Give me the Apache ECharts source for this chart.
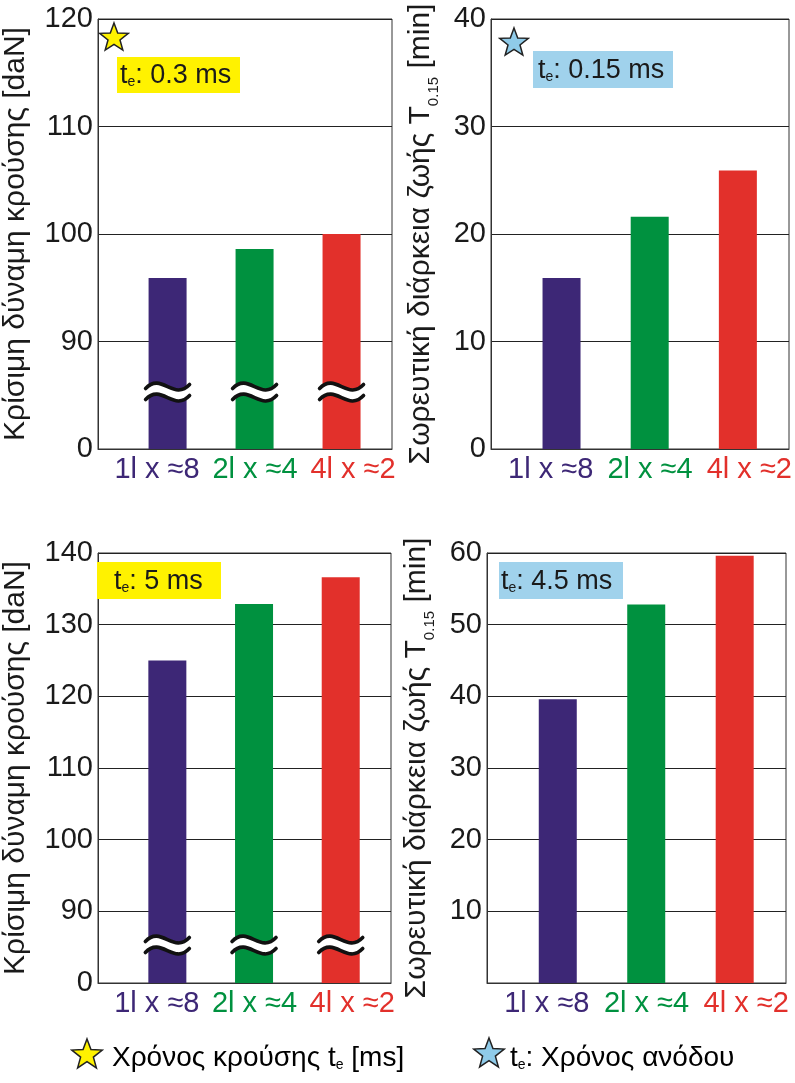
<!DOCTYPE html>
<html>
<head>
<meta charset="utf-8">
<script src="https://cdn.jsdelivr.net/npm/echarts@6/dist/echarts.min.js"></script>
<style>
html,body{margin:0;padding:0;background:#fff;}
#chart{width:795px;height:1083px;}
</style>
</head>
<body>
<div id="chart"></div>
<script>
// ---------------- data ----------------
const categories = ['1l x ≈8', '2l x ≈4', '4l x ≈2'];
const forceShort = [95.9, 98.6, 100.0];   // Κρίσιμη δύναμη, te 0.3 ms
const lifeShort  = [15.9, 21.6, 25.9];    // Σωρευτική διάρκεια, te 0.15 ms
const forceLong  = [125.0, 132.9, 136.6]; // Κρίσιμη δύναμη, te 5 ms
const lifeLong   = [39.6, 52.8, 59.6];    // Σωρευτική διάρκεια, te 4.5 ms
const barColors  = ['#3d2776', '#00913f', '#e2302b'];
const forceShortAxis = {min: 80, max: 120};
const lifeShortAxis  = {min: 0,  max: 40};
const forceLongAxis  = {min: 80, max: 140};
const lifeLongAxis   = {min: 0,  max: 60};
const axisBreakLabel = '0';   // label shown at the bottom of broken axes
const breakMark = 85.3;       // where the "≈" break symbol sits on broken axes
const panelNotes = ['0.3 ms', '0.15 ms', '5 ms', '4.5 ms'];

// ---------------- styling ----------------
const FONT = 'Liberation Sans, Arial, sans-serif';
const TXT = '#1a1a1a';
const BAR_W = 38;
const BAR_SLOT = {min: -0.8, max: 2.58};  // placement scale of the bars inside each panel

const grids = [
  {left: 93,  top: 19,  width: 299, height: 430},
  {left: 491, top: 19,  width: 298, height: 430},
  {left: 92,  top: 553, width: 299, height: 430},
  {left: 487, top: 553, width: 299, height: 430}
].map(g => Object.assign({show: true, borderColor: '#333', borderWidth: 1, backgroundColor: 'transparent'}, g));

const forceName = 'Κρίσιμη δύναμη κρούσης [daN]';
const lifeName = '{m|Σωρευτική διάρκεια ζωής T}{s|0.15}{m| [min]}';
const nameRich = {
  m: {fontSize: 30, fontFamily: FONT, color: TXT, verticalAlign: 'bottom', padding: [0, 0, 5, 0]},
  s: {fontSize: 15, fontFamily: FONT, color: TXT, verticalAlign: 'bottom'}
};

// category axis: labels + base line; value axis (hidden): bar placement
function xAxesFor(i) {
  const lab = c => ({color: c, fontSize: 29, fontFamily: FONT});
  return [{
    gridIndex: i, type: 'category', data: categories,
    axisTick: {show: false},
    axisLine: {show: true, onZero: false, lineStyle: {color: '#333', width: 1}},
    axisLabel: {
      margin: 6, padding: [0, 0, 0, 20],
      formatter: (v, idx) => '{c' + idx + '|' + v + '}',
      rich: {c0: lab(barColors[0]), c1: lab(barColors[1]), c2: lab(barColors[2])}
    }
  }, {
    gridIndex: i, type: 'value', show: false, position: 'bottom',
    min: BAR_SLOT.min, max: BAR_SLOT.max, splitLine: {show: false},
    axisLine: {show: false, onZero: false}
  }];
}

function yAxisFor(i, range, name, gap, broken, hideZero) {
  return {
    gridIndex: i, type: 'value', min: range.min, max: range.max, interval: 10,
    axisLine: {show: true, onZero: false, lineStyle: {color: '#333', width: 1}},
    axisTick: {show: false},
    splitLine: {show: true, lineStyle: {color: '#222', width: 1}},
    axisLabel: {
      fontSize: 29, fontFamily: FONT, color: TXT, margin: 5,
      formatter: v => {
        if (broken && v === range.min) return axisBreakLabel;
        if (hideZero && v === 0) return '';
        return String(v);
      }
    },
    name: name, nameLocation: 'middle', nameGap: gap,
    nameTextStyle: {fontSize: 30, fontFamily: FONT, color: TXT, rich: nameRich}
  };
}

function barSeries(i, values) {
  return {
    type: 'bar', xAxisIndex: 2 * i + 1, yAxisIndex: i, barWidth: BAR_W,
    data: values.map((v, k) => ({value: [k, v], itemStyle: {color: barColors[k]}})),
    silent: true, animation: false
  };
}

function breakSeries(i) {
  return {
    type: 'custom', xAxisIndex: 2 * i + 1, yAxisIndex: i, animation: false, silent: true, z: 5,
    data: categories.map((c, k) => [k, breakMark]),
    renderItem: (params, api) => {
      const p = api.coord([api.value(0), api.value(1)]);
      const w = BAR_W + 6, x0 = p[0] - w / 2, x1 = p[0] + w / 2;
      const curve = (dy, color, lw) => ({
        type: 'bezierCurve',
        shape: {x1: x0, y1: p[1] + dy + 2, cpx1: x0 + w * 0.36, cpy1: p[1] + dy - 15,
                cpx2: x0 + w * 0.64, cpy2: p[1] + dy + 15, x2: x1, y2: p[1] + dy - 2},
        style: {stroke: color, lineWidth: lw, fill: null, lineCap: 'round'}
      });
      return {type: 'group', children: [
        curve(0, '#fff', 9), curve(-5.5, '#111', 3.6), curve(5.5, '#111', 3.6)
      ]};
    }
  };
}

function starPoints(cx, cy, r) {
  const pts = [];
  for (let k = 0; k < 10; k++) {
    const rr = k % 2 === 0 ? r : r * 0.42;
    const a = -Math.PI / 2 + k * Math.PI / 5;
    pts.push([cx + rr * Math.cos(a), cy + rr * Math.sin(a)]);
  }
  return pts;
}

const YELLOW = '#fff200';
const BLUE_BOX = '#a0d2ec';
const BLUE_STAR = '#8fcbe9';
const noteRich = {
  t: {fontSize: 27, fontFamily: FONT, color: TXT},
  s: {fontSize: 14, fontFamily: FONT, color: TXT, verticalAlign: 'bottom'}
};
function note(x, y, w, h, color, txt, tx) {
  return [
    {type: 'rect', shape: {x: x, y: y, width: w, height: h}, style: {fill: color}, z: 10},
    {type: 'text', x: tx, y: y + h / 2 + 1, z: 11,
     style: {text: '{t|t}{s|e}{t|: ' + txt + '}', rich: noteRich, verticalAlign: 'middle', fill: TXT}}
  ];
}
function star(cx, cy, r, color) {
  return {type: 'polygon', z: 12, shape: {points: starPoints(cx, cy, r)},
          style: {fill: color, stroke: '#222', lineWidth: 1.5}};
}

const legendRich = {
  t: {fontSize: 28, fontFamily: FONT, color: TXT},
  s: {fontSize: 14, fontFamily: FONT, color: TXT, verticalAlign: 'bottom'}
};

const graphics = [].concat(
  [star(114, 38, 15, YELLOW)],
  note(117, 57, 123, 36, YELLOW, panelNotes[0], 120),
  [star(514, 43, 15, BLUE_STAR)],
  note(533, 51, 140, 37, BLUE_BOX, panelNotes[1], 538),
  note(97, 562, 124, 37, YELLOW, panelNotes[2], 114),
  note(499, 562, 124, 37, BLUE_BOX, panelNotes[3], 501),
  [star(87, 1055, 16, YELLOW),
   {type: 'text', x: 112, y: 1058, z: 11,
    style: {text: '{t|Χρόνος κρούσης t}{s|e}{t| [ms]}', rich: legendRich, verticalAlign: 'middle'}},
   star(489, 1054, 16, BLUE_STAR),
   {type: 'text', x: 510, y: 1058, z: 11,
    style: {text: '{t|t}{s|e}{t|: Χρόνος ανόδου}', rich: legendRich, verticalAlign: 'middle'}}]
);

const chart = echarts.init(document.getElementById('chart'), null, {renderer: 'canvas'});
chart.setOption({
  animation: false,
  backgroundColor: '#fff',
  grid: grids,
  xAxis: [].concat(xAxesFor(0), xAxesFor(1), xAxesFor(2), xAxesFor(3)),
  yAxis: [
    yAxisFor(0, forceShortAxis, forceName, 67, true, false),
    yAxisFor(1, lifeShortAxis, lifeName, 50, false, false),
    yAxisFor(2, forceLongAxis, forceName, 67, true, false),
    yAxisFor(3, lifeLongAxis, lifeName, 50, false, true)
  ],
  series: [
    barSeries(0, forceShort), breakSeries(0),
    barSeries(1, lifeShort),
    barSeries(2, forceLong), breakSeries(2),
    barSeries(3, lifeLong)
  ],
  graphic: graphics
});
</script>
</body>
</html>
